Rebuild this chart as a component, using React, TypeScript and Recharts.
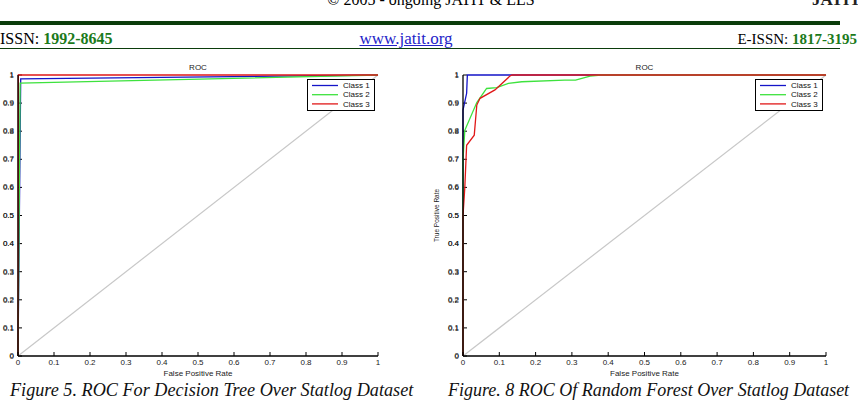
import {
	Legend,
	Line,
	LineChart,
	ReferenceLine,
	XAxis,
	YAxis,
} from "recharts";

type Pt = { fpr: number; tpr: number };

const rateTicks = [0, 0.1, 0.2, 0.3, 0.4, 0.5, 0.6, 0.7, 0.8, 0.9, 1];
const classNames = ["Class 1", "Class 2", "Class 3"];
const classColors = ["#1414c8", "#3ee23e", "#e01818"];
const chanceLine: Pt[] = [
	{ fpr: 0, tpr: 0 },
	{ fpr: 1, tpr: 1 },
];

// Figure 5 - decision tree
const treeClass1: Pt[] = [
	{ fpr: 0, tpr: 0 },
	{ fpr: 0.0075, tpr: 0.986 },
	{ fpr: 1, tpr: 1 },
];
const treeClass2: Pt[] = [
	{ fpr: 0, tpr: 0 },
	{ fpr: 0.006, tpr: 0.971 },
	{ fpr: 1, tpr: 1 },
];
const treeClass3: Pt[] = [
	{ fpr: 0, tpr: 0 },
	{ fpr: 0.001, tpr: 1 },
	{ fpr: 1, tpr: 1 },
];

// Figure 8 - random forest
const forestClass1: Pt[] = [
	{ fpr: 0, tpr: 0 },
	{ fpr: 0, tpr: 0.875 },
	{ fpr: 0.01, tpr: 0.935 },
	{ fpr: 0.012, tpr: 1 },
	{ fpr: 1, tpr: 1 },
];
const forestClass2: Pt[] = [
	{ fpr: 0, tpr: 0 },
	{ fpr: 0, tpr: 0.7 },
	{ fpr: 0.005, tpr: 0.803 },
	{ fpr: 0.038, tpr: 0.902 },
	{ fpr: 0.065, tpr: 0.952 },
	{ fpr: 0.093, tpr: 0.955 },
	{ fpr: 0.125, tpr: 0.97 },
	{ fpr: 0.162, tpr: 0.976 },
	{ fpr: 0.28, tpr: 0.982 },
	{ fpr: 0.31, tpr: 0.982 },
	{ fpr: 0.35, tpr: 0.996 },
	{ fpr: 0.38, tpr: 1 },
	{ fpr: 1, tpr: 1 },
];
const forestClass3: Pt[] = [
	{ fpr: 0, tpr: 0 },
	{ fpr: 0, tpr: 0.5 },
	{ fpr: 0.005, tpr: 0.6 },
	{ fpr: 0.01, tpr: 0.75 },
	{ fpr: 0.031, tpr: 0.786 },
	{ fpr: 0.038, tpr: 0.893 },
	{ fpr: 0.047, tpr: 0.917 },
	{ fpr: 0.088, tpr: 0.947 },
	{ fpr: 0.13, tpr: 0.997 },
	{ fpr: 0.135, tpr: 1 },
	{ fpr: 1, tpr: 1 },
];

const sans = "'Liberation Sans', Arial, sans-serif";
const serif = "'Liberation Serif', 'Times New Roman', serif";
const darkGreen = "#0b3d0b";
const TICK_GAP = 6;
const PLOT_TOP = 20;
const PLOT_HEIGHT = 281;

const fmtRate = (v: number) => String(Math.round(v * 10) / 10);

// inward tick marks, matlab style
// biome-ignore lint: recharts tick props
const XTick = (props: any) => {
	const { x, y, payload } = props;
	const axisY = y - TICK_GAP;
	return (
		<g>
			<line x1={x} x2={x} y1={axisY} y2={axisY - 4} stroke="#000" />
			<text
				x={x}
				y={axisY + 3}
				dy="0.71em"
				textAnchor="middle"
				fontSize={8}
				fontFamily={sans}
				fill="#222"
			>
				{fmtRate(payload.value)}
			</text>
		</g>
	);
};

// y tick marks hang off reference lines, placed by the y scale
// biome-ignore lint: recharts label props
const YTickMark = (props: any) => {
	const { viewBox, tickValue } = props;
	if (!viewBox) return null;
	const axisX = viewBox.x;
	const y = viewBox.y;
	return (
		<g>
			<line x1={axisX} x2={axisX + 4} y1={y} y2={y} stroke="#000" />
			<text
				x={axisX - 4}
				y={y}
				dy="0.35em"
				textAnchor="end"
				fontSize={8}
				fontFamily={sans}
				fill="#222"
			>
				{fmtRate(tickValue)}
			</text>
		</g>
	);
};

// biome-ignore lint: recharts legend props
const renderLegend = (props: any) => {
	const items = (props.payload ?? []).filter(
		(p: { type?: string }) => p.type !== "none",
	);
	return (
		<div
			style={{
				width: 68,
				height: 32,
				border: "1px solid #000",
				background: "#fff",
				boxSizing: "border-box",
			}}
		>
			<svg width={66} height={30} style={{ display: "block" }}>
				{items.map((item: { value: string; color: string }, i: number) => (
					<g key={item.value}>
						<line
							x1={4}
							x2={30}
							y1={5.5 + i * 9.2}
							y2={5.5 + i * 9.2}
							stroke={item.color}
							strokeWidth={1.3}
						/>
						<text
							x={35}
							y={5.5 + i * 9.2}
							dy="0.33em"
							fontSize={8}
							fontFamily={sans}
							fill="#111"
						>
							{item.value}
						</text>
					</g>
				))}
			</svg>
		</div>
	);
};

// y tick numbers repeated as html on top, in case the svg copy is hidden
function YTickNumbers({ axisX }: { axisX: number }) {
	return (
		<>
			{rateTicks.map((v) => (
				<div
					key={`ynum-${v}`}
					style={{
						position: "absolute",
						left: 0,
						width: axisX - 4,
						top: PLOT_TOP + (1 - v) * PLOT_HEIGHT - 5,
						height: 10,
						lineHeight: "10px",
						textAlign: "right",
						fontSize: 8,
						fontFamily: sans,
						color: "#222",
						whiteSpace: "nowrap",
						zIndex: 1000,
					}}
				>
					{fmtRate(v)}
				</div>
			))}
		</>
	);
}

interface RocChartProps {
	series: Pt[][];
	yAxisWidth: number;
	plotWidth: number;
	yLabel?: string;
}

function RocChart({ series, yAxisWidth, plotWidth, yLabel }: RocChartProps) {
	const width = yAxisWidth + plotWidth + 22;
	return (
		<div style={{ position: "relative", width, height: 326 }}>
			<div
				style={{
					position: "absolute",
					left: yAxisWidth,
					width: plotWidth,
					top: 8,
					textAlign: "center",
					fontFamily: sans,
					fontSize: 8,
					lineHeight: "10px",
					color: "#222",
				}}
			>
				ROC
			</div>
			<LineChart
				width={width}
				height={326}
				margin={{ top: PLOT_TOP, right: 22, bottom: 0, left: 0 }}
			>
				<XAxis
					type="number"
					dataKey="fpr"
					domain={[0, 1]}
					ticks={rateTicks}
					interval={0}
					height={25}
					tickSize={0}
					tickMargin={TICK_GAP}
					tickLine={false}
					tick={<XTick />}
					axisLine={{ stroke: "#000", strokeWidth: 1.3 }}
					label={{
						value: "False Positive Rate",
						position: "insideBottom",
						offset: 5,
						style: { fontSize: 8, fill: "#222", fontFamily: sans },
					}}
				/>
				<YAxis
					type="number"
					domain={[0, 1]}
					ticks={rateTicks}
					width={yAxisWidth}
					tick={false}
					tickLine={false}
					axisLine={{ stroke: "#000", strokeWidth: 1.3 }}
					label={
						yLabel
							? {
									value: yLabel,
									angle: -90,
									position: "insideLeft",
									offset: 7,
									style: {
										fontSize: 6.5,
										fill: "#222",
										fontFamily: sans,
										textAnchor: "middle",
									},
								}
							: undefined
					}
				/>
				{rateTicks.map((v) => (
					<ReferenceLine
						key={`ytick-${v}`}
						y={v}
						stroke="none"
						ifOverflow="visible"
						label={<YTickMark tickValue={v} />}
					/>
				))}
				<Legend
					content={renderLegend}
					verticalAlign="middle"
					align="center"
					wrapperStyle={{
						left: yAxisWidth + plotWidth - 71,
						top: 24,
						width: 68,
						height: 32,
					}}
				/>
				<Line
					data={chanceLine}
					dataKey="tpr"
					type="linear"
					stroke="#c8c8c8"
					strokeWidth={1.2}
					dot={false}
					legendType="none"
					isAnimationActive={false}
				/>
				{series.map((pts, i) => (
					<Line
						key={classNames[i]}
						name={classNames[i]}
						data={pts}
						dataKey="tpr"
						type="linear"
						stroke={classColors[i]}
						strokeWidth={1.3}
						dot={false}
						isAnimationActive={false}
					/>
				))}
			</LineChart>
			<YTickNumbers axisX={yAxisWidth} />
		</div>
	);
}

export default function App() {
	return (
		<div
			style={{
				position: "absolute",
				left: 0,
				top: 0,
				width: 858,
				height: 402,
				overflow: "hidden",
				background: "#fff",
				fontFamily: serif,
				color: "#000",
			}}
		>
			<div
				style={{
					position: "absolute",
					top: -8,
					left: 0,
					width: 862,
					textAlign: "center",
					fontSize: 16,
					lineHeight: "16px",
					whiteSpace: "nowrap",
				}}
			>
				© 2005 - ongoing JATIT &amp; LLS
			</div>
			<div
				style={{
					position: "absolute",
					top: -9,
					left: 812,
					fontSize: 17,
					fontWeight: "bold",
					lineHeight: "17px",
					color: "#222",
				}}
			>
				JATIT
			</div>
			<div
				style={{
					position: "absolute",
					top: 21,
					left: 0,
					width: 840,
					height: 4,
					background: darkGreen,
				}}
			/>
			<div
				style={{
					position: "absolute",
					top: 30,
					left: 0,
					fontSize: 16,
					lineHeight: "18px",
					whiteSpace: "nowrap",
				}}
			>
				ISSN: <b style={{ color: "#1b7a1b" }}>1992-8645</b>
			</div>
			<div
				style={{
					position: "absolute",
					top: 29,
					left: 306,
					width: 200,
					textAlign: "center",
					fontSize: 17,
					lineHeight: "19px",
					color: "#2323c8",
					textDecoration: "underline",
				}}
			>
				www.jatit.org
			</div>
			<div
				style={{
					position: "absolute",
					top: 30,
					right: 1,
					fontSize: 15,
					lineHeight: "18px",
					whiteSpace: "nowrap",
				}}
			>
				E-ISSN: <b style={{ color: "#1b7a1b" }}>1817-3195</b>
			</div>
			<div
				style={{
					position: "absolute",
					top: 48,
					left: 0,
					width: 840,
					height: 1,
					background: darkGreen,
				}}
			/>
			<div style={{ position: "absolute", left: 0, top: 55 }}>
				<RocChart
					series={[treeClass1, treeClass2, treeClass3]}
					yAxisWidth={18}
					plotWidth={360}
				/>
			</div>
			<div style={{ position: "absolute", left: 430, top: 55 }}>
				<RocChart
					series={[forestClass1, forestClass2, forestClass3]}
					yAxisWidth={33}
					plotWidth={363}
					yLabel="True Positive Rate"
				/>
			</div>
			<div
				style={{
					position: "absolute",
					left: 10,
					top: 379,
					fontSize: 18.2,
					fontStyle: "italic",
					lineHeight: "22px",
					whiteSpace: "nowrap",
					color: "#111",
				}}
			>
				Figure 5. ROC For Decision Tree Over Statlog Dataset
			</div>
			<div
				style={{
					position: "absolute",
					left: 448,
					top: 379,
					fontSize: 18,
					fontStyle: "italic",
					lineHeight: "22px",
					whiteSpace: "nowrap",
					color: "#111",
				}}
			>
				Figure. 8 ROC Of Random Forest Over Statlog Dataset
			</div>
		</div>
	);
}
